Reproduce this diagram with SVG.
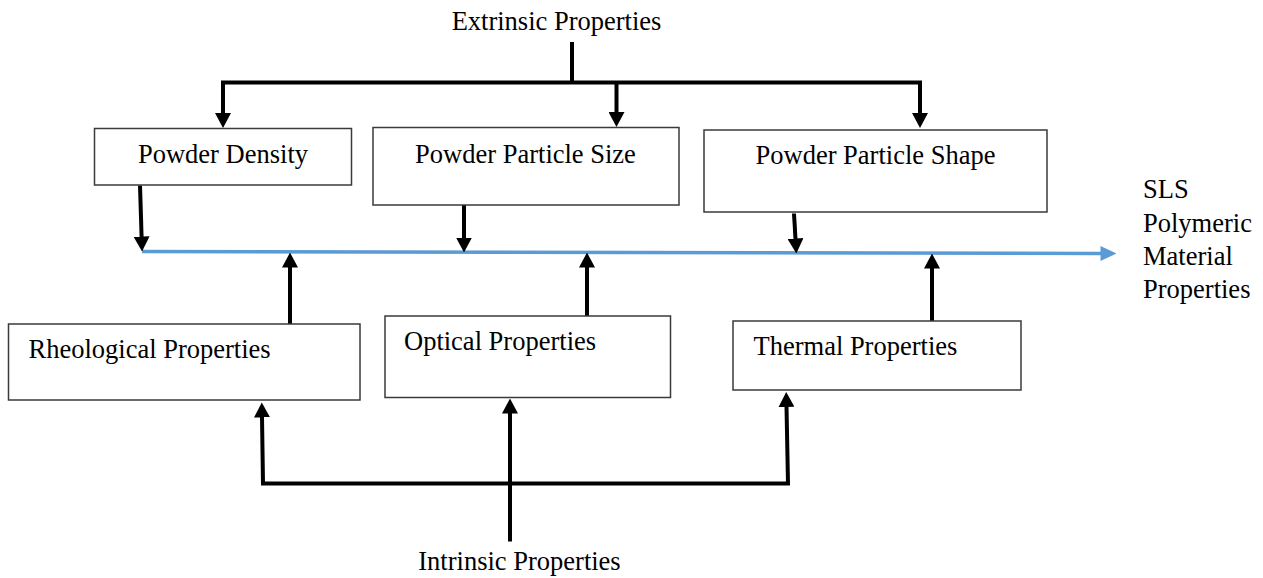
<svg xmlns="http://www.w3.org/2000/svg" width="1263" height="578" viewBox="0 0 1263 578">
<style>
  .box { fill: #ffffff; stroke: #3a3a3a; stroke-width: 1.5; }
  .lbl { font-family: 'Liberation Serif', Tinos, 'Times New Roman', Times, serif; font-size: 26.5px; fill: #000000; }
  .mid { text-anchor: middle; }
  .conn { fill: none; stroke: #000000; stroke-width: 4; stroke-linejoin: miter; }
  .blue { fill: none; stroke: #5B9BD5; stroke-width: 3.5; }
</style>
<defs>
  <marker id="ah" markerUnits="userSpaceOnUse" markerWidth="15" markerHeight="16" viewBox="0 0 15 16" refX="0.5" refY="8" orient="auto-start-reverse">
    <path d="M0,0 L15,8 L0,16 z" fill="#000000"/>
  </marker>
  <marker id="ahb" markerUnits="userSpaceOnUse" markerWidth="16" markerHeight="16" viewBox="0 0 16 16" refX="0.5" refY="8" orient="auto">
    <path d="M0,0.5 L16,8 L0,15.5 z" fill="#5B9BD5"/>
  </marker>
</defs>

<g id="connectors">
  <path class="blue" d="M142,251.5 L1101,253.5" marker-end="url(#ahb)"/>
  <path class="conn" d="M572,42 V82.5"/>
  <path class="conn" d="M223,113.5 V82.5 H920 V113.5" marker-start="url(#ah)" marker-end="url(#ah)"/>
  <path class="conn" d="M616.5,82.5 V112.5" marker-end="url(#ah)"/>
  <path class="conn" d="M140,185.5 L141.6,237" marker-end="url(#ah)"/>
  <path class="conn" d="M464,205 V238" marker-end="url(#ah)"/>
  <path class="conn" d="M794,213.5 L795.5,239" marker-end="url(#ah)"/>
  <path class="conn" d="M290,324 V267" marker-end="url(#ah)"/>
  <path class="conn" d="M587,316 V267" marker-end="url(#ah)"/>
  <path class="conn" d="M932,321 V268" marker-end="url(#ah)"/>
  <path class="conn" d="M262,417 L263,483.5 H788 L786.5,406.5" marker-start="url(#ah)" marker-end="url(#ah)"/>
  <path class="conn" d="M510,541.5 V413" marker-end="url(#ah)"/>
</g>

<g id="extrinsic">
  <text class="lbl mid" x="556.5" y="30" font-family="Liberation Serif, serif">Extrinsic Properties</text>
</g>

<g id="powder-density">
  <rect class="box" x="94.5" y="128.5" width="257" height="56.5"/>
  <text class="lbl mid" x="223" y="163">Powder Density</text>
</g>

<g id="powder-particle-size">
  <rect class="box" x="373" y="127.5" width="306" height="77.5"/>
  <text class="lbl mid" x="525.5" y="163">Powder Particle Size</text>
</g>

<g id="powder-particle-shape">
  <rect class="box" x="704" y="130" width="343" height="82"/>
  <text class="lbl mid" x="875.5" y="164">Powder Particle Shape</text>
</g>

<g id="sls-properties">
  <text class="lbl" x="1143" y="198">SLS</text>
  <text class="lbl" x="1143" y="232">Polymeric</text>
  <text class="lbl" x="1143" y="265">Material</text>
  <text class="lbl" x="1143" y="298">Properties</text>
</g>

<g id="rheological">
  <rect class="box" x="8.5" y="324" width="351.5" height="76"/>
  <text class="lbl" x="28.5" y="358">Rheological Properties</text>
</g>

<g id="optical">
  <rect class="box" x="385" y="316" width="285.5" height="81.5"/>
  <text class="lbl" x="404" y="350">Optical Properties</text>
</g>

<g id="thermal">
  <rect class="box" x="733" y="321" width="288" height="69"/>
  <text class="lbl" x="753.5" y="355">Thermal Properties</text>
</g>

<g id="intrinsic">
  <text class="lbl mid" x="519.5" y="570">Intrinsic Properties</text>
</g>
</svg>
